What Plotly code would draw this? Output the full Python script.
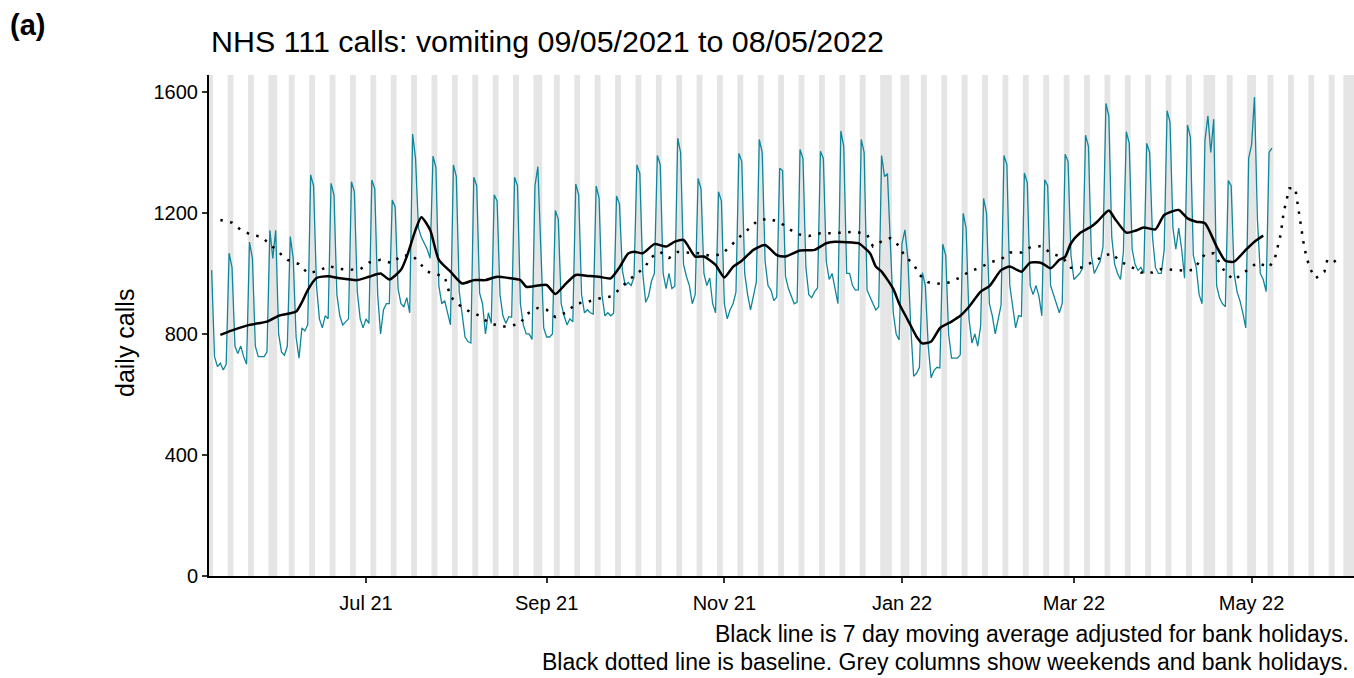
import pandas as pd
import plotly.graph_objects as go

# Daily NHS 111 calls for vomiting, Sunday 9 May 2021 to Sunday 8 May 2022 (one row per week, Sun..Sat)
daily_calls = [
    1011, 725, 692, 703, 681, 700, 1067,
    1020, 760, 735, 760, 725, 700, 1104,
    1050, 760, 725, 725, 725, 740, 1143,
    1050, 1143, 800, 740, 730, 760, 1122,
    1050, 790, 720, 820, 810, 830, 1326,
    1290, 960, 850, 820, 860, 850, 1298,
    1260, 930, 860, 830, 840, 850, 1303,
    1270, 940, 850, 820, 850, 835, 1309,
    1280, 930, 800, 880, 900, 900, 1243,
    1220, 950, 900, 890, 920, 870, 1461,
    1380, 1150, 1120, 1100, 1080, 1050, 1388,
    1350, 960, 900, 910, 870, 830, 1359,
    1320, 940, 860, 790, 775, 770, 1318,
    1290, 935, 900, 800, 870, 835, 1260,
    1240, 930, 860, 835, 857, 855, 1318,
    1290, 900, 830, 800, 800, 782, 1290,
    1353, 1100, 820, 790, 790, 800, 1208,
    1180, 900, 860, 830, 850, 840, 1296,
    1260, 930, 870, 880, 870, 866, 1289,
    1250, 930, 860, 870, 860, 869, 1256,
    1230, 1010, 960, 970, 960, 987, 1359,
    1330, 1000, 905, 925, 975, 1000, 1390,
    1360, 1000, 950, 1000, 950, 958, 1447,
    1400, 1030, 990, 960, 900, 931, 1314,
    1280, 1000, 960, 985, 900, 870, 1270,
    1240, 900, 850, 880, 900, 938, 1397,
    1370, 1000, 930, 880, 930, 972, 1443,
    1400, 1040, 960, 945, 910, 922, 1348,
    1340, 990, 950, 925, 900, 905, 1410,
    1380, 1020, 930, 920, 940, 952, 1404,
    1380, 1040, 980, 1000, 950, 900, 1471,
    1420, 1000, 1000, 960, 945, 946, 1443,
    1400, 945, 923, 901, 879, 890, 1390,
    1320, 1330, 1100, 870, 800, 780, 1100,
    1144, 1050, 824, 660, 670, 690, 1003,
    960, 760, 655, 680, 690, 688, 1097,
    1060, 800, 720, 720, 720, 731, 1199,
    1150, 850, 770, 800, 760, 827, 1248,
    1200, 900, 860, 800, 850, 895, 1390,
    1360, 960, 880, 820, 860, 858, 1332,
    1300, 960, 930, 960, 925, 860, 1310,
    1290, 960, 930, 900, 870, 901, 1394,
    1370, 1060, 980, 990, 1000, 1018, 1457,
    1420, 1060, 1000, 1020, 1040, 1088, 1562,
    1520, 1120, 1030, 1000, 980, 1071, 1469,
    1430, 1080, 1030, 1010, 1020, 1001, 1430,
    1400, 1120, 1020, 1000, 1000, 1077, 1538,
    1500, 1150, 1080, 1150, 1080, 984, 1491,
    1450, 1060, 1020, 930, 900, 1440, 1521,
    1400, 1510, 960, 920, 900, 890, 1307,
    1290, 1000, 940, 910, 870, 820, 1381,
    1425, 1583, 1180, 1000, 980, 940, 1400,
    1414,
]
daily_dates = pd.date_range("2021-05-09", "2022-05-08", freq="D")

# 7 day moving average, adjusted for bank holidays
ma_dates = [
    "2021-05-12", "2021-05-17", "2021-05-22", "2021-05-28", "2021-06-01", "2021-06-07",
    "2021-06-09", "2021-06-11", "2021-06-14", "2021-06-18", "2021-06-22", "2021-06-28",
    "2021-07-02", "2021-07-06", "2021-07-09", "2021-07-13", "2021-07-15", "2021-07-18",
    "2021-07-20", "2021-07-23", "2021-07-26", "2021-07-30", "2021-08-03", "2021-08-07",
    "2021-08-11", "2021-08-15", "2021-08-19", "2021-08-23", "2021-08-25", "2021-08-29",
    "2021-09-01", "2021-09-04", "2021-09-07", "2021-09-11", "2021-09-15", "2021-09-19",
    "2021-09-23", "2021-09-26", "2021-09-29", "2021-10-01", "2021-10-04", "2021-10-08",
    "2021-10-12", "2021-10-15", "2021-10-18", "2021-10-22", "2021-10-25", "2021-10-29",
    "2021-11-01", "2021-11-04", "2021-11-07", "2021-11-11", "2021-11-15", "2021-11-19",
    "2021-11-22", "2021-11-27", "2021-12-02", "2021-12-06", "2021-12-09", "2021-12-15",
    "2021-12-17", "2021-12-21", "2021-12-23", "2021-12-25", "2021-12-29", "2021-12-31",
    "2022-01-03", "2022-01-06", "2022-01-08", "2022-01-11", "2022-01-14", "2022-01-18",
    "2022-01-21", "2022-01-24", "2022-01-28", "2022-01-31", "2022-02-04", "2022-02-07",
    "2022-02-11", "2022-02-14", "2022-02-18", "2022-02-21", "2022-02-24", "2022-02-26",
    "2022-02-28", "2022-03-03", "2022-03-07", "2022-03-09", "2022-03-13", "2022-03-15",
    "2022-03-19", "2022-03-22", "2022-03-25", "2022-03-29", "2022-04-01", "2022-04-06",
    "2022-04-09", "2022-04-12", "2022-04-15", "2022-04-19", "2022-04-22", "2022-04-25",
    "2022-04-29", "2022-05-02", "2022-05-05",
]
ma_values = [
    797, 815, 830, 841, 860, 874,
    905, 945, 985, 991, 984, 978,
    989, 1000, 980, 1012, 1056, 1144,
    1186, 1144, 1045, 1006, 967, 978,
    978, 989, 985, 978, 956, 960,
    962, 932, 960, 995, 992, 989,
    984, 1020, 1066, 1072, 1067, 1097,
    1089, 1105, 1111, 1056, 1056, 1028,
    987, 1022, 1042, 1078, 1094, 1061,
    1056, 1076, 1078, 1100, 1105, 1102,
    1100, 1067, 1023, 1006, 949, 901,
    846, 791, 769, 775, 819, 841,
    860, 890, 940, 958, 1011, 1023,
    1006, 1036, 1034, 1017, 1045, 1055,
    1100, 1133, 1155, 1171, 1208, 1182,
    1135, 1141, 1152, 1146, 1193, 1210,
    1182, 1171, 1166, 1089, 1042, 1039,
    1078, 1105, 1125,
]

# Baseline (expected calls)
baseline_dates = [
    "2021-05-12", "2021-05-16", "2021-05-19", "2021-05-23", "2021-05-26", "2021-05-29",
    "2021-06-01", "2021-06-04", "2021-06-08", "2021-06-11", "2021-06-15", "2021-06-18",
    "2021-06-22", "2021-06-25", "2021-06-29", "2021-07-02", "2021-07-06", "2021-07-10",
    "2021-07-13", "2021-07-17", "2021-07-20", "2021-07-22", "2021-07-26", "2021-07-28",
    "2021-07-30", "2021-08-02", "2021-08-05", "2021-08-09", "2021-08-12", "2021-08-16",
    "2021-08-19", "2021-08-23", "2021-08-25", "2021-08-29", "2021-09-01", "2021-09-04",
    "2021-09-08", "2021-09-11", "2021-09-15", "2021-09-19", "2021-09-23", "2021-09-26",
    "2021-09-29", "2021-10-02", "2021-10-05", "2021-10-07", "2021-10-10", "2021-10-13",
    "2021-10-16", "2021-10-23", "2021-10-27", "2021-10-31", "2021-11-03", "2021-11-06",
    "2021-11-09", "2021-11-12", "2021-11-16", "2021-11-20", "2021-11-23", "2021-11-26",
    "2021-11-30", "2021-12-04", "2021-12-08", "2021-12-12", "2021-12-16", "2021-12-20",
    "2021-12-22", "2021-12-25", "2021-12-28", "2021-12-31", "2022-01-02", "2022-01-05",
    "2022-01-07", "2022-01-10", "2022-01-14", "2022-01-17", "2022-01-21", "2022-01-24",
    "2022-01-28", "2022-01-31", "2022-02-04", "2022-02-07", "2022-02-11", "2022-02-14",
    "2022-02-18", "2022-02-21", "2022-02-25", "2022-02-28", "2022-03-04", "2022-03-07",
    "2022-03-11", "2022-03-14", "2022-03-17", "2022-03-21", "2022-03-24", "2022-03-28",
    "2022-03-31", "2022-04-04", "2022-04-08", "2022-04-11", "2022-04-15", "2022-04-18",
    "2022-04-20", "2022-04-22", "2022-04-25", "2022-04-28", "2022-04-30", "2022-05-03",
    "2022-05-07", "2022-05-09", "2022-05-11", "2022-05-12", "2022-05-13", "2022-05-14",
    "2022-05-16", "2022-05-17", "2022-05-18", "2022-05-19", "2022-05-20", "2022-05-21",
    "2022-05-23", "2022-05-26", "2022-05-27", "2022-05-29", "2022-05-31",
]
baseline_values = [
    1177, 1168, 1144, 1126, 1122, 1097,
    1070, 1045, 1031, 1001, 1009, 1025,
    1015, 1012, 1014, 1036, 1045, 1034,
    1059, 1059, 1028, 1006, 995, 989,
    923, 896, 877, 860, 838, 825,
    825, 835, 865, 886, 880, 856,
    872, 900, 906, 917, 924, 947,
    978, 998, 1025, 1054, 1071, 1051,
    1071, 1067, 1059, 1063, 1089, 1119,
    1144, 1171, 1182, 1169, 1149, 1130,
    1124, 1133, 1133, 1135, 1138, 1129,
    1090, 1106, 1117, 1091, 1056, 1031,
    995, 971, 966, 970, 987, 1006,
    1020, 1036, 1047, 1069, 1069, 1086,
    1091, 1067, 1054, 1019, 1020, 1036,
    1056, 1067, 1039, 1020, 1003, 1003,
    1015, 1012, 1009, 1012, 1064, 1067,
    1034, 1003, 978, 1000, 1012, 1036,
    1020, 1050, 1129, 1201, 1243, 1282,
    1282, 1220, 1150, 1091, 1050, 1017,
    984, 1006, 1045, 1036, 1052,
]

# Bank holidays in England shaded along with weekends
bank_holidays = [
    "2021-05-31", "2021-08-30", "2021-12-27", "2021-12-28", "2022-01-03",
    "2022-04-15", "2022-04-18", "2022-05-02", "2022-06-02", "2022-06-03",
]

tick_dates = ["2021-07-01", "2021-09-01", "2021-11-01", "2022-01-01", "2022-03-01", "2022-05-01"]
tick_labels = ["Jul 21", "Sep 21", "Nov 21", "Jan 22", "Mar 22", "May 22"]
y_ticks = [0, 400, 800, 1200, 1600]

FONT = "Liberation Sans, Arial, sans-serif"

# Grey columns: one block per run of consecutive weekend / bank holiday days
calendar = pd.date_range("2021-05-08", "2022-06-05", freq="D")
off_days = [d for d in calendar if d.dayofweek >= 5 or d.strftime("%Y-%m-%d") in bank_holidays]
blocks = []
for d in off_days:
    if blocks and (d - blocks[-1][1]).days == 1:
        blocks[-1][1] = d
    else:
        blocks.append([d, d])
half = pd.Timedelta(hours=12)
shapes = [
    dict(type="rect", xref="x", yref="paper",
         x0=(s - half).strftime("%Y-%m-%d %H:%M"), x1=(e + half).strftime("%Y-%m-%d %H:%M"),
         y0=0, y1=1, fillcolor="#E5E5E5", line=dict(width=0), layer="below")
    for s, e in blocks
]

fig = go.Figure()
fig.add_trace(go.Scatter(x=daily_dates, y=daily_calls, mode="lines",
                         line=dict(color="#10869A", width=1.3), hoverinfo="skip"))
fig.add_trace(go.Scatter(x=baseline_dates, y=baseline_values, mode="lines",
                         line=dict(color="black", width=2.5, dash="2.5px,7.5px"), hoverinfo="skip"))
fig.add_trace(go.Scatter(x=ma_dates, y=ma_values, mode="lines",
                         line=dict(color="black", width=2.5, shape="spline", smoothing=0.6),
                         hoverinfo="skip"))

axis_common = dict(
    showgrid=False, zeroline=False, showline=True, linecolor="black", linewidth=2,
    ticks="outside", ticklen=5, tickwidth=1.5, tickcolor="#333333",
    tickfont=dict(family=FONT, size=20, color="black"),
)
fig.update_xaxes(type="date", range=["2021-05-08 02:24", "2022-06-05 03:50"],
                 tickvals=tick_dates, ticktext=tick_labels, ticklabelstandoff=3, **axis_common)
fig.update_yaxes(range=[0, 1656], tickvals=y_ticks, ticktext=[str(v) for v in y_ticks],
                 **axis_common)

annotations = [
    dict(text="NHS 111 calls: vomiting 09/05/2021 to 08/05/2022", x=0, y=1.068,
         xref="paper", yref="paper", xanchor="left", yanchor="middle", showarrow=False,
         font=dict(family=FONT, size=30.4, color="black")),
    dict(text="<b>(a)</b>", x=-0.1755, y=1.10, xref="paper", yref="paper",
         xanchor="left", yanchor="middle", showarrow=False,
         font=dict(family=FONT, size=29, color="black")),
    dict(text="daily calls", x=-0.0734, y=0.465, xref="paper", yref="paper",
         xanchor="center", yanchor="middle", textangle=-90, showarrow=False,
         font=dict(family=FONT, size=25, color="black")),
    dict(text="Black line is 7 day moving average adjusted for bank holidays.", x=0.9965, y=-0.1158,
         xref="paper", yref="paper", xanchor="right", yanchor="middle", showarrow=False,
         borderpad=0, font=dict(family=FONT, size=23, color="black")),
    dict(text="Black dotted line is baseline. Grey columns show weekends and bank holidays.",
         x=0.9965, y=-0.1717, xref="paper", yref="paper", xanchor="right", yanchor="middle",
         showarrow=False, borderpad=0, font=dict(family=FONT, size=23, color="black")),
]

fig.update_layout(
    width=1354, height=678,
    margin=dict(l=209, r=0, t=75, b=102),
    paper_bgcolor="white", plot_bgcolor="white",
    showlegend=False, shapes=shapes, annotations=annotations,
    font=dict(family=FONT),
)

fig.write_html("out.html")
